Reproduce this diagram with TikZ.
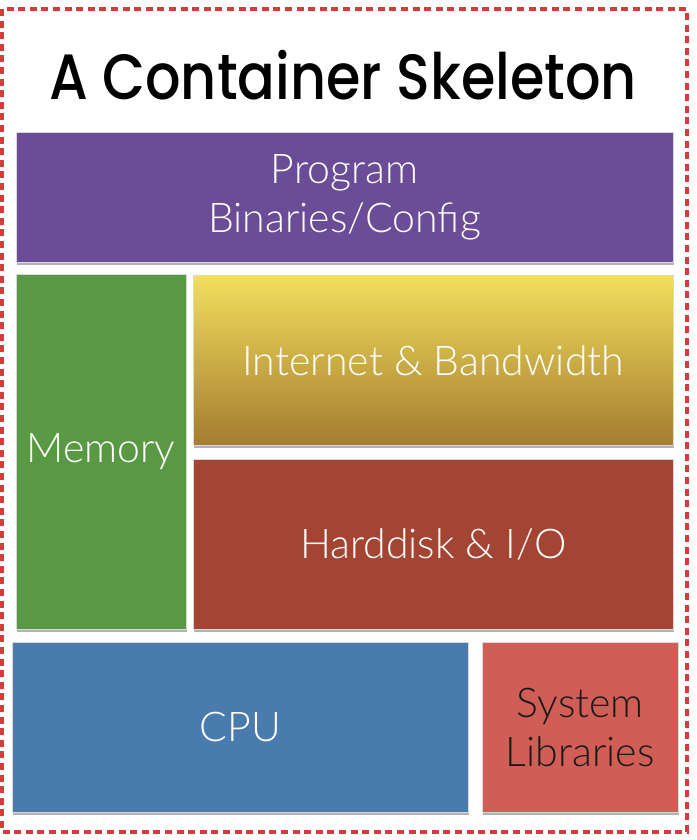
\documentclass[tikz,border=0pt]{standalone}
\usepackage{fontspec}
\setmainfont{Lato Light}
\newfontfamily\titlefont{Poppins Medium}[FakeStretch=0.87]
\usetikzlibrary{shadows}
\definecolor{progcol}{HTML}{6B4C96}
\definecolor{memcol}{HTML}{5A9944}
\definecolor{nettop}{HTML}{F2DF5C}
\definecolor{netbot}{HTML}{A47C30}
\definecolor{diskcol}{HTML}{A44433}
\definecolor{cpucol}{HTML}{4A7BAF}
\definecolor{libcol}{HTML}{D05E56}
\definecolor{framecol}{HTML}{D83A3A}
\begin{document}
\begin{tikzpicture}[x=0.5pt, y=-0.5pt,
  box/.style={draw=black!15, line width=0.3pt, inner sep=0pt, anchor=north west,
    text=white, align=center, font=\fontsize{20.5}{24.5}\selectfont,
    drop shadow={shadow xshift=0.4pt, shadow yshift=-1.3pt, opacity=0.3, fill=black}},
  boxsize/.style 2 args={minimum width=#1*0.5pt, minimum height=#2*0.5pt},
  frame/.style={draw=framecol, line width=1.6pt, dash pattern=on 3.5pt off 2.3pt}]
\useasboundingbox (0,0) rectangle (696,840);
\draw[frame] (2,9) rectangle (687,832);
\node[anchor=base, font=\titlefont\fontsize{32}{36}\selectfont] (title) at (343,100) {A Container Skeleton};
% upper row
\node[box, boxsize={657.5}{130}, fill=progcol] (prog) at (15.5,132) {Program\\Binaries/Config};
% middle block
\node[box, boxsize={170.5}{355}, fill=memcol] (mem) at (15.5,274) {Memory};
\node[box, boxsize={480}{170}, top color=nettop, bottom color=netbot] (net) at (193,275) {Internet \& Bandwidth};
\node[box, boxsize={480}{170}, fill=diskcol] (disk) at (193,459) {Harddisk \& I/O};
% bottom row
\node[box, boxsize={456}{170.5}, fill=cpucol] (cpu) at (12,641.5) {CPU};
\node[box, boxsize={196}{170.5}, fill=libcol, text=black!90] (lib) at (482,641.5) {System\\Libraries};
\end{tikzpicture}
\end{document}
